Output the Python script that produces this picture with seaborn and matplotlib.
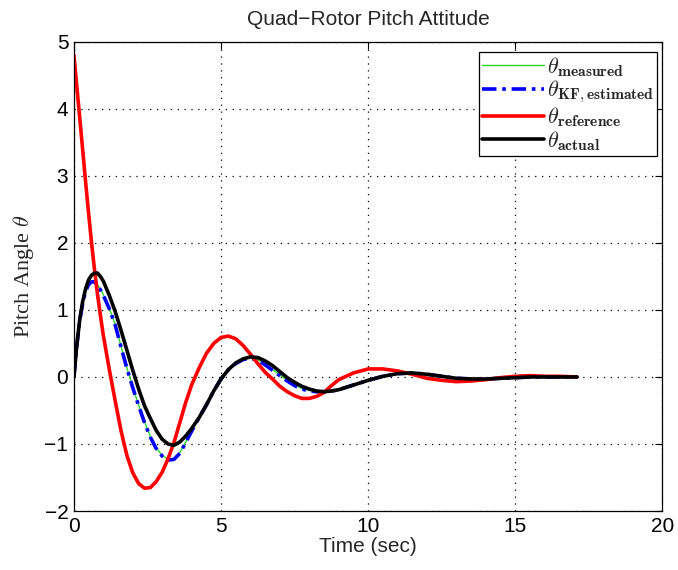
import numpy as np
import pandas as pd
import matplotlib
matplotlib.use("Agg")
import matplotlib.pyplot as plt
import seaborn as sns

# ---- data ----
time_s = [0.0, 0.1, 0.2, 0.3, 0.4, 0.5, 0.6, 0.7, 0.8, 0.9, 1.0, 1.2, 1.4, 1.6, 1.8,
          2.0, 2.2, 2.4, 2.6, 2.8, 3.0, 3.2, 3.4, 3.6, 3.8, 4.0, 4.25, 4.5, 4.75,
          5.0, 5.25, 5.5, 5.75, 6.0, 6.25, 6.5, 6.75, 7.0, 7.25, 7.5, 7.75, 8.0,
          8.25, 8.5, 8.75, 9.0, 9.5, 10.0, 10.5, 11.0, 11.5, 12.0, 12.5, 13.0,
          13.5, 14.0, 14.5, 15.0, 15.5, 16.0, 16.5, 17.1]

theta_reference = [4.80, 4.33, 3.86, 3.38, 2.90, 2.44, 2.00, 1.60, 1.24, 0.92, 0.62,
                   0.12, -0.35, -0.80, -1.17, -1.43, -1.59, -1.66, -1.65, -1.56,
                   -1.42, -1.22, -0.98, -0.68, -0.38, -0.12, 0.13, 0.35, 0.50, 0.59,
                   0.61, 0.57, 0.47, 0.34, 0.20, 0.07, -0.03, -0.14, -0.22, -0.28,
                   -0.32, -0.32, -0.29, -0.23, -0.13, -0.04, 0.06, 0.12, 0.12, 0.09,
                   0.04, -0.02, -0.05, -0.07, -0.06, -0.04, -0.01, 0.01, 0.02, 0.01,
                   0.01, 0.00]

theta_actual = [0.00, 0.48, 0.86, 1.13, 1.32, 1.45, 1.52, 1.55, 1.55, 1.50, 1.43,
                1.22, 0.98, 0.70, 0.40, 0.10, -0.18, -0.43, -0.62, -0.80, -0.93,
                -1.00, -1.02, -0.97, -0.88, -0.77, -0.61, -0.42, -0.21, -0.03, 0.11,
                0.21, 0.27, 0.30, 0.29, 0.24, 0.17, 0.08, -0.01, -0.08, -0.14, -0.18,
                -0.21, -0.22, -0.21, -0.19, -0.12, -0.05, 0.01, 0.05, 0.06, 0.04,
                0.01, -0.02, -0.03, -0.03, -0.02, -0.01, 0.00, 0.00, 0.00, 0.00]

theta_kf = [0.00, 0.47, 0.85, 1.10, 1.28, 1.38, 1.42, 1.42, 1.37, 1.30, 1.22,
            1.02, 0.78, 0.45, 0.13, -0.16, -0.43, -0.68, -0.90, -1.07, -1.18,
            -1.24, -1.23, -1.14, -0.98, -0.81, -0.61, -0.42, -0.21, -0.03, 0.11,
            0.20, 0.26, 0.28, 0.25, 0.18, 0.10, 0.02, -0.06, -0.13, -0.18, -0.21,
            -0.22, -0.22, -0.21, -0.19, -0.12, -0.05, 0.01, 0.05, 0.06, 0.04,
            0.01, -0.02, -0.03, -0.03, -0.02, -0.01, 0.00, 0.00, 0.00, 0.00]

theta_measured = [0.00, 0.47, 0.86, 1.11, 1.29, 1.39, 1.43, 1.42, 1.38, 1.31, 1.23,
                  1.03, 0.79, 0.46, 0.14, -0.15, -0.42, -0.67, -0.89, -1.06, -1.17,
                  -1.23, -1.22, -1.13, -0.97, -0.80, -0.60, -0.41, -0.20, -0.02, 0.12,
                  0.21, 0.27, 0.29, 0.26, 0.19, 0.11, 0.03, -0.05, -0.12, -0.17, -0.20,
                  -0.22, -0.22, -0.21, -0.19, -0.12, -0.05, 0.01, 0.05, 0.06, 0.04,
                  0.01, -0.02, -0.03, -0.03, -0.02, -0.01, 0.00, 0.00, 0.00, 0.00]

x_ticks = [0, 5, 10, 15, 20]
y_ticks = [-2, -1, 0, 1, 2, 3, 4, 5]

series_labels = [r'$\theta_{\mathbf{measured}}$',
                 r'$\theta_{\mathbf{KF,estimated}}$',
                 r'$\theta_{\mathbf{reference}}$',
                 r'$\theta_{\mathbf{actual}}$']

# ---- style ----
sns.set_theme(style="white")
plt.rcParams['font.family'] = ['Liberation Sans', 'DejaVu Sans']
plt.rcParams['mathtext.fontset'] = 'cm'
plt.rcParams['axes.unicode_minus'] = True

fig = plt.figure(figsize=(6.78, 5.70), dpi=100)
ax = fig.add_axes([0.109, 0.1035, 0.868, 0.823])

df = pd.DataFrame({'t': time_s, 'meas': theta_measured, 'kf': theta_kf,
                   'ref': theta_reference, 'act': theta_actual})

kf_dash = (0, (4, 1.6, 1, 1.6))

sns.lineplot(data=df, x='t', y='meas', ax=ax, color=(0.15, 0.85, 0.15), lw=1.0,
             label=series_labels[0], estimator=None, sort=False)
sns.lineplot(data=df, x='t', y='kf', ax=ax, color=(0.0, 0.0, 1.0), lw=2.6,
             label=series_labels[1], estimator=None, sort=False)
ax.lines[-1].set_linestyle(kf_dash)
sns.lineplot(data=df, x='t', y='ref', ax=ax, color=(1.0, 0.0, 0.0), lw=2.6,
             label=series_labels[2], estimator=None, sort=False)
sns.lineplot(data=df, x='t', y='act', ax=ax, color='black', lw=2.6,
             label=series_labels[3], estimator=None, sort=False)

ax.set_xlim(0, 20)
ax.set_ylim(-2, 5)
ax.set_xticks(x_ticks)
ax.set_yticks(y_ticks)
ax.tick_params(direction='in', top=True, right=True, length=5, width=0.8,
               labelsize=15, colors='black', pad=4)
for s in ax.spines.values():
    s.set_color('black')
    s.set_linewidth(0.9)
ax.grid(True, linestyle=(0, (1, 4.5)), color='black', lw=0.9)

ax.set_title('Quad\u2212Rotor Pitch Attitude', fontsize=15, pad=12)
ax.set_xlabel('Time (sec)', fontsize=15, labelpad=1)
ax.set_ylabel(r'Pitch Angle $\theta$', fontsize=16,
              family=['Liberation Serif', 'DejaVu Serif'], labelpad=6)

leg = ax.legend(loc='upper right', bbox_to_anchor=(0.9915, 0.979), fontsize=16,
                frameon=True, fancybox=False, framealpha=1, edgecolor='black',
                handlelength=2.8, handletextpad=0.1, borderpad=0.15,
                labelspacing=0.0, borderaxespad=0.0)
leg.get_frame().set_linewidth(0.9)
leg.get_lines()[1].set_linestyle(kf_dash)

fig.savefig('out.png', dpi=100, facecolor='white')
